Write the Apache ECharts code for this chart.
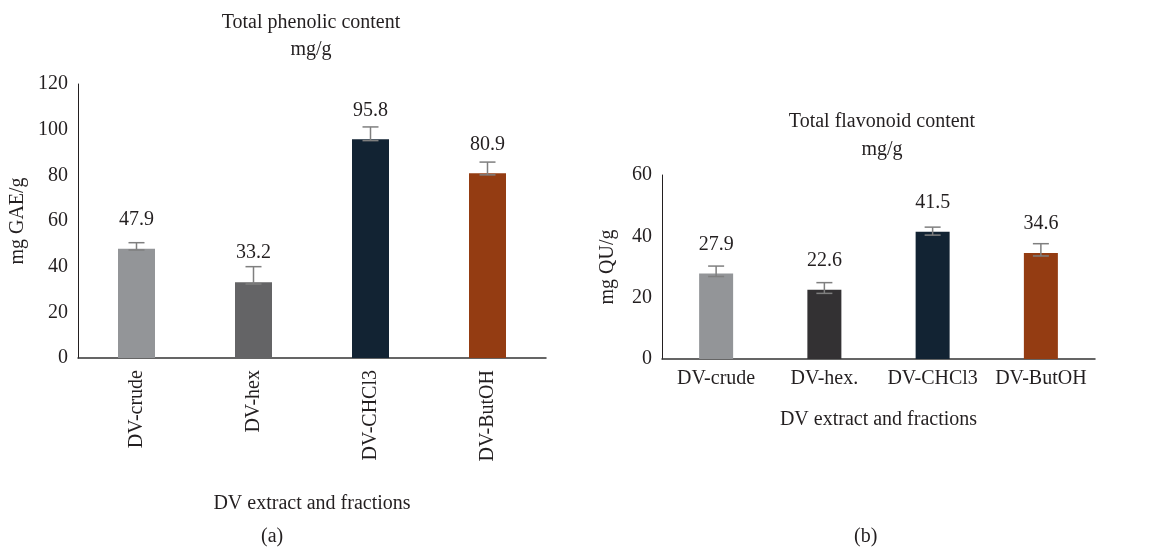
<!DOCTYPE html>
<html>
<head>
<meta charset="utf-8">
<script src="https://cdn.jsdelivr.net/npm/echarts@6/dist/echarts.min.js"></script>
<style>html,body{margin:0;padding:0;background:#fff}#c{width:1173px;height:547px}</style>
</head>
<body>
<div id="c"></div>
<script>
// ---- Data ----
const catsA = ['DV-crude', 'DV-hex', 'DV-CHCl3', 'DV-ButOH'];
const phenolic = [47.9, 33.2, 95.8, 80.9];
const phenolicLow = [47.3, 32.4, 95.2, 80.2];
const phenolicHigh = [50.5, 40.0, 101.2, 85.8];

const catsB = ['DV-crude', 'DV-hex.', 'DV-CHCl3', 'DV-ButOH'];
const flavonoid = [27.9, 22.6, 41.5, 34.6];
const flavonoidLow = [26.9, 21.4, 40.4, 33.6];
const flavonoidHigh = [30.3, 24.9, 43.0, 37.6];

const yTicksA = [0, 20, 40, 60, 80, 100, 120];
const yTicksB = [0, 20, 40, 60];

const colorsA = ['#939598', '#646466', '#122333', '#943c12'];
const colorsB = ['#939598', '#333133', '#122333', '#943c12'];

const FONT = '"Liberation Serif", "DejaVu Serif", serif';
const TXT = '#231f20';
const FS = 20;

function errSeries(xi, yi, low, high) {
  return {
    type: 'custom', xAxisIndex: xi, yAxisIndex: yi, z: 5,
    data: low.map((l, i) => [i, l, high[i]]),
    renderItem: function (params, api) {
      const i = api.value(0);
      const p1 = api.coord([i, api.value(1)]);
      const p2 = api.coord([i, api.value(2)]);
      const hw = 8;
      const st = { stroke: '#7f7f7f', lineWidth: 1.5 };
      return {
        type: 'group',
        children: [
          { type: 'line', shape: { x1: p1[0], y1: p1[1], x2: p2[0], y2: p2[1] }, style: st },
          { type: 'line', shape: { x1: p1[0] - hw, y1: p1[1], x2: p1[0] + hw, y2: p1[1] }, style: st },
          { type: 'line', shape: { x1: p2[0] - hw, y1: p2[1], x2: p2[0] + hw, y2: p2[1] }, style: st }
        ]
      };
    }
  };
}

function barSeries(xi, yi, vals, colors, bw) {
  return {
    type: 'bar', xAxisIndex: xi, yAxisIndex: yi, barWidth: bw,
    data: vals.map((v, i) => ({ value: v, itemStyle: { color: colors[i] } })),
    label: {
      show: true, position: 'top', distance: 19,
      fontFamily: FONT, fontSize: FS, color: TXT,
      formatter: p => p.value.toFixed(1)
    }
  };
}

const yAxisBase = (max, interval, nameText, gap) => ({
  type: 'value', min: 0, max: max, interval: interval,
  name: nameText, nameLocation: 'middle', nameGap: gap, nameRotate: 90,
  nameTextStyle: { fontFamily: FONT, fontSize: FS, color: TXT },
  axisLine: { show: true, lineStyle: { color: '#231f20', width: 1 } },
  axisTick: { show: false },
  splitLine: { show: false },
  axisLabel: { fontFamily: FONT, fontSize: FS, color: TXT, margin: 10 }
});

const chart = echarts.init(document.getElementById('c'), null, { renderer: 'canvas' });
chart.setOption({
  backgroundColor: '#ffffff',
  animation: false,
  title: [
    { text: 'Total phenolic content\nmg/g', left: 311, top: 9, padding: 0, textAlign: 'center',
      textStyle: { fontFamily: FONT, fontSize: FS, fontWeight: 'normal', color: TXT, lineHeight: 27 } },
    { text: 'Total flavonoid content\nmg/g', left: 882, top: 108, padding: 0, textAlign: 'center',
      textStyle: { fontFamily: FONT, fontSize: FS, fontWeight: 'normal', color: TXT, lineHeight: 28 } }
  ],
  grid: [
    { left: 78, top: 84, width: 468, height: 274 },
    { left: 662, top: 175, width: 433, height: 184 }
  ],
  xAxis: [
    { type: 'category', gridIndex: 0, data: catsA,
      name: 'DV extract and fractions', nameLocation: 'middle', nameGap: 136,
      nameTextStyle: { fontFamily: FONT, fontSize: FS, color: TXT },
      axisLine: { lineStyle: { color: '#333', width: 1.5 } },
      axisTick: { show: false },
      axisLabel: { interval: 0, rotate: 90, fontFamily: FONT, fontSize: FS, color: TXT, margin: 12 } },
    { type: 'category', gridIndex: 1, data: catsB,
      name: 'DV extract and fractions', nameLocation: 'middle', nameGap: 51,
      nameTextStyle: { fontFamily: FONT, fontSize: FS, color: TXT },
      axisLine: { lineStyle: { color: '#333', width: 1.5 } },
      axisTick: { show: false },
      axisLabel: { interval: 0, hideOverlap: false, fontFamily: FONT, fontSize: FS, color: TXT, margin: 10 } }
  ],
  yAxis: [
    Object.assign(yAxisBase(yTicksA[yTicksA.length - 1], yTicksA[1] - yTicksA[0], 'mg GAE/g', 50), { gridIndex: 0 }),
    Object.assign(yAxisBase(yTicksB[yTicksB.length - 1], yTicksB[1] - yTicksB[0], 'mg QU/g', 44), { gridIndex: 1 })
  ],
  graphic: [
    { type: 'text', left: 261, top: 527, style: { text: '(a)', fontFamily: FONT, fontSize: FS, fill: TXT } },
    { type: 'text', left: 854, top: 527, style: { text: '(b)', fontFamily: FONT, fontSize: FS, fill: TXT } }
  ],
  series: [
    barSeries(0, 0, phenolic, colorsA, 37),
    errSeries(0, 0, phenolicLow, phenolicHigh),
    barSeries(1, 1, flavonoid, colorsB, 34),
    errSeries(1, 1, flavonoidLow, flavonoidHigh)
  ]
});
</script>
</body>
</html>
